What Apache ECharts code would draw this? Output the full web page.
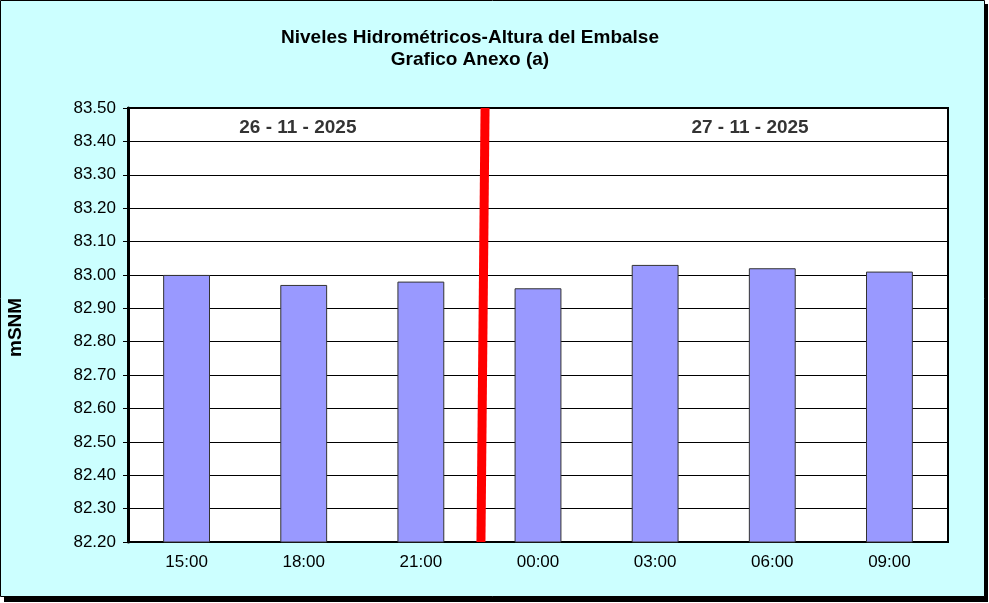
<!DOCTYPE html>
<html>
<head>
<meta charset="utf-8">
<script src="https://cdn.jsdelivr.net/npm/echarts@6/dist/echarts.min.js"></script>
<style>
  html, body { margin: 0; padding: 0; background: #fff; }
  #chart { width: 989px; height: 603px; }
</style>
</head>
<body>
<div id="chart"></div>
<script>
// horas de lectura
var horas = ['15:00', '18:00', '21:00', '00:00', '03:00', '06:00', '09:00'];
// altura del embalse (mSNM)
var alturas = [83.00, 82.97, 82.98, 82.96, 83.03, 83.02, 83.01];
// fechas y donde van
var fechas = ['26 - 11 - 2025', '27 - 11 - 2025'];
var fechaPos = [[1.45, 83.44], [5.31, 83.44]];
// separador de dias (linea roja)
var corte = [[3.013, 82.2], [3.048, 83.5]];

var chart = echarts.init(document.getElementById('chart'));
var fuente = 'Liberation Sans, Arial, sans-serif';

var option = {
  animation: false,
  backgroundColor: 'transparent',
  graphic: [
    { type: 'rect', shape: { x: 4, y: 4, width: 984, height: 598 }, style: { fill: '#000' }, z: -10 },
    { type: 'rect', shape: { x: 0.5, y: 0.5, width: 984, height: 596 }, style: { fill: '#CCFFFF', stroke: '#000', lineWidth: 1 }, z: -9 },
    { type: 'text', x: 470, y: 28, style: { text: 'Niveles Hidrométricos-Altura del Embalse', font: 'bold 19px ' + fuente, fill: '#000', align: 'center' } },
    { type: 'text', x: 470, y: 50, style: { text: 'Grafico Anexo (a)', font: 'bold 19px ' + fuente, fill: '#000', align: 'center' } },
    { type: 'text', x: 6, y: 357, rotation: Math.PI / 2, style: { text: 'mSNM', font: 'bold 19px ' + fuente, fill: '#000' } }
  ],
  grid: {
    left: 128, top: 108, width: 820, height: 434,
    show: true, backgroundColor: '#fff', borderColor: '#000', borderWidth: 2
  },
  xAxis: [{
    type: 'category',
    data: horas,
    axisLine: { lineStyle: { color: '#000', width: 2 } },
    axisTick: { length: 5, lineStyle: { color: '#000' } },
    axisLabel: { color: '#000', fontSize: 17, fontFamily: fuente, margin: 12 }
  }, {
    type: 'value', min: 0, max: 7, show: false
  }],
  yAxis: {
    type: 'value',
    min: 82.2, max: 83.5, interval: 0.1,
    axisLine: { show: true, lineStyle: { color: '#000', width: 3 } },
    axisTick: { show: true, length: 5, lineStyle: { color: '#000' } },
    axisLabel: { color: '#000', fontSize: 17, fontFamily: fuente, margin: 12, formatter: function (v) { return v.toFixed(2); } },
    splitLine: { lineStyle: { color: '#000', width: 1 } }
  },
  series: [{
    type: 'bar',
    data: alturas,
    barWidth: '40%',
    itemStyle: { color: '#9999FF', borderColor: '#333', borderWidth: 1 }
  }, {
    type: 'line',
    xAxisIndex: 1,
    data: corte,
    symbol: 'none',
    lineStyle: { color: '#FF0000', width: 9 },
    z: 5
  }, {
    type: 'scatter',
    xAxisIndex: 1,
    data: fechaPos,
    symbolSize: 0,
    label: {
      show: true, position: 'inside',
      formatter: function (p) { return fechas[p.dataIndex]; },
      color: '#000', fontSize: 19, fontWeight: 'bold', fontFamily: fuente
    }
  }]
};
chart.setOption(option);
</script>
</body>
</html>
